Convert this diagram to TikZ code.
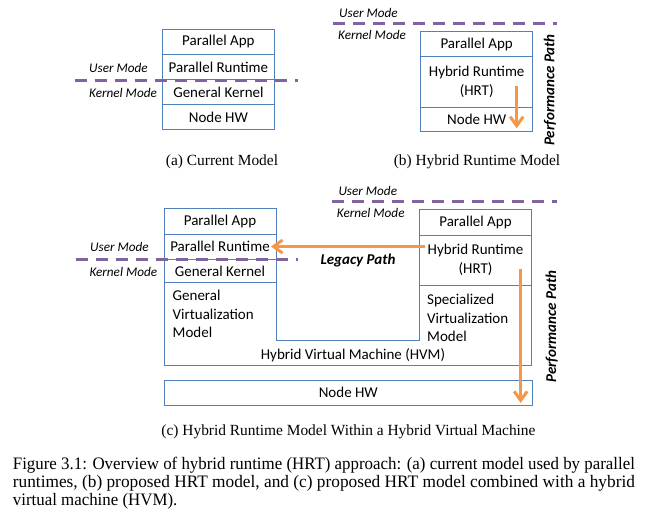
\documentclass[tikz,border=0pt]{standalone}
\usepackage{fontspec}
\usepackage{graphicx}
\setmainfont{Liberation Serif}
\newfontfamily\boxfont{Carlito}
\usetikzlibrary{arrows.meta,positioning}

\definecolor{boxblue}{RGB}{79,129,189}
\definecolor{modepurple}{RGB}{128,100,162}
\definecolor{pathorange}{RGB}{247,150,70}

\newcommand{\capfont}{\fontsize{17.5}{18}\selectfont}
\newcommand{\subfont}{\fontsize{15.5}{17}\selectfont}
\newlength\capw
\newlength\subw

\tikzset{
  layer/.style={draw=boxblue, thick, minimum width=112pt, minimum height=25pt,
    inner sep=0pt, outer sep=0pt, align=center,
    font=\boxfont\fontsize{15}{18.5}\selectfont},
  mode/.style={font=\boxfont\itshape\fontsize{13.2}{15}\selectfont, inner sep=0pt, anchor=west},
  tag/.style={font=\boxfont\bfseries\itshape\fontsize{15}{18}\selectfont, inner sep=0pt},
  split/.style={modepurple, line width=3pt, dash pattern=on 12pt off 8pt},
  route/.style={pathorange, line width=3pt, -{Straight Barb[length=9pt,width=13pt,line width=3pt]}},
  hvmline/.style={draw=boxblue, thick},
  sub/.style={inner sep=0pt, anchor=base, font=\subfont},
  capline/.style={inner sep=0pt, anchor=base west, font=\capfont}
}

\begin{document}
\settowidth\capw{\capfont Figure 3.1: Overview of hybrid runtime (HRT) approach: (a) current model used by parallel}
\settowidth\subw{\subfont (c) Hybrid Runtime Model Within a Hybrid Virtual Machine}
\pgfmathsetmacro\capsx{622/\capw}
\pgfmathsetmacro\subsx{374/\subw}
\begin{tikzpicture}[x=1pt,y=-1pt]
  \useasboundingbox (0,0) rectangle (647,513);

  % (a) current model
  \node[layer] (appA) at (218.4,42) {Parallel App};
  \node[layer, below=0pt of appA] (rtA) {Parallel Runtime};
  \node[layer, below=0pt of rtA] (kernA) {General Kernel};
  \node[layer, below=0pt of kernA] (hwA) {Node HW};
  \draw[split] (75,80.7) -- (298,80.7);
  \node[mode] (userA) at (89,68) {User Mode};
  \node[mode] (kernelA) at (89,93) {Kernel Mode};
  \node[sub] (capA) at (222,165) {\scalebox{\subsx}[1]{(a) Current Model}};

  % (b) hybrid runtime model
  \node[layer] (appB) at (476.7,44.2) {Parallel App};
  \node[layer, minimum height=50.6pt, below=0pt of appB] (hrtB) {Hybrid Runtime\\(HRT)};
  \node[layer, minimum height=24pt, below=0pt of hrtB] (hwB) {Node HW};
  \draw[split] (333,23.3) -- (557,23.3);
  \node[mode] (userB) at (339,12.7) {User Mode};
  \node[mode] (kernelB) at (338,35) {Kernel Mode};
  \coordinate (perfB0) at ([xshift=-16pt,yshift=-4pt]hrtB.east);
  \coordinate (perfB1) at (perfB0 |- hwB.south);
  \draw[route] (perfB0) -- ([yshift=3pt]perfB1);
  \node[tag, rotate=90] (perfB) at (550,90) {Performance Path};
  \node[sub] (capB) at (477,166) {\scalebox{\subsx}[1]{(b) Hybrid Runtime Model}};

  % (c) HRT within the HVM
  \node[layer, minimum height=25.7pt] (appC) at (220,221.2) {Parallel App};
  \node[layer, below=0pt of appC] (rtC) {Parallel Runtime};
  \node[layer, minimum height=23.7pt, below=0pt of rtC] (kernC) {General Kernel};
  \node[layer, minimum width=112.4pt, minimum height=25.7pt] (appD) at (475.5,222.2) {Parallel App};
  \node[layer, minimum width=112.4pt, minimum height=50pt, below=0pt of appD] (hrtD) {Hybrid Runtime\\(HRT)};
  \node[layer, minimum width=368.7pt, minimum height=24.3pt] (hwC) at (348.3,392.8) {Node HW};

  \coordinate (hvmSW) at (164,365);
  \coordinate (hvmSE) at (531.7,365);
  \coordinate (gapL) at (276,340);
  \coordinate (gapR) at (419.3,340);
  \draw[hvmline] (kernC.south west) -- (hvmSW) -- (hvmSE) -- (hrtD.south east);
  \draw[hvmline] (kernC.south east) -- (gapL) -- (gapR) -- (hrtD.south west);

  \node[anchor=north west, inner sep=0pt, align=left,
    font=\boxfont\fontsize{15}{18.5}\selectfont] (gvm) at (172.5,290) {General\\Virtualization\\Model};
  \node[anchor=north west, inner sep=0pt, align=left,
    font=\boxfont\fontsize{15}{18.5}\selectfont] (svm) at (427,294) {Specialized\\Virtualization\\Model};
  \node[inner sep=0pt, font=\boxfont\fontsize{15}{18}\selectfont] (hvm) at (353,355) {Hybrid Virtual Machine (HVM)};

  \draw[split] (76,259.3) -- (298,259.3);
  \draw[split] (332,201) -- (557,201);
  \node[mode] (userC) at (90,247.3) {User Mode};
  \node[mode] (kernelC) at (89.3,272.3) {Kernel Mode};
  \node[mode] (userD) at (338.3,191) {User Mode};
  \node[mode] (kernelD) at (336.7,213) {Kernel Mode};

  \draw[route] ([xshift=6pt]hrtD.west |- rtC) -- ([xshift=-5pt]rtC.east);
  \node[tag] (legacy) at (358,260) {Legacy Path};
  \coordinate (perfC0) at ([xshift=-11pt,yshift=-9pt]hrtD.east);
  \coordinate (perfC1) at (perfC0 |- hwC.south);
  \draw[route] (perfC0) -- ([yshift=2pt]perfC1);
  \node[tag, rotate=90] (perfC) at (551.7,326.7) {Performance Path};

  \node[sub] (capC) at (348.5,435) {\scalebox{\subsx}[1]{(c) Hybrid Runtime Model Within a Hybrid Virtual Machine}};

  % figure caption
  \node[capline] (cap1) at (12.7,469.5) {\resizebox{622pt}{\height}{Figure 3.1: Overview of hybrid runtime (HRT) approach: (a) current model used by parallel}};
  \node[capline] (cap2) at (12.7,487.5) {\resizebox{622pt}{\height}{runtimes, (b) proposed HRT model, and (c) proposed HRT model combined with a hybrid}};
  \node[capline] (cap3) at (12.7,505.5) {\scalebox{\capsx}[1]{virtual machine (HVM).}};
\end{tikzpicture}
\end{document}
